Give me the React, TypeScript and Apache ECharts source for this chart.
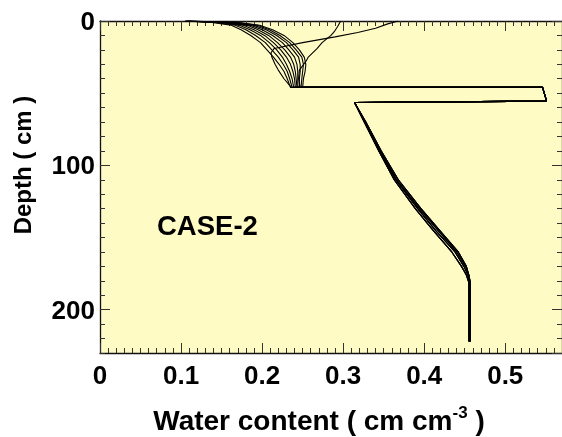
import React, { useEffect, useRef } from "react";
import * as echarts from "echarts";

// ---- Data ----
// Upper (sandy) layer: depth points and water-content profiles that dry at the surface
const UPPER_DEPTHS = [0, 1, 3, 6, 10, 15, 20, 25, 30, 35, 40, 46];
const DRY_1 = [0.105, 0.138, 0.162, 0.174, 0.186, 0.198, 0.206, 0.214, 0.221, 0.227, 0.231, 0.235];
const DRY_2 = [0.105, 0.143, 0.167, 0.18, 0.192, 0.204, 0.212, 0.22, 0.226, 0.231, 0.234, 0.237];
const DRY_3 = [0.105, 0.148, 0.172, 0.185, 0.198, 0.209, 0.218, 0.225, 0.23, 0.234, 0.237, 0.239];
const DRY_4 = [0.106, 0.152, 0.177, 0.19, 0.203, 0.214, 0.223, 0.23, 0.235, 0.238, 0.24, 0.241];
const DRY_5 = [0.106, 0.156, 0.182, 0.195, 0.208, 0.219, 0.228, 0.235, 0.239, 0.241, 0.242, 0.243];
const DRY_6 = [0.107, 0.16, 0.186, 0.2, 0.213, 0.225, 0.233, 0.24, 0.243, 0.244, 0.244, 0.244];
const DRY_7 = [0.108, 0.164, 0.19, 0.205, 0.218, 0.23, 0.238, 0.245, 0.247, 0.247, 0.246, 0.246];
const DRY_8 = [0.109, 0.168, 0.194, 0.209, 0.222, 0.234, 0.242, 0.249, 0.251, 0.25, 0.249, 0.248];
const DRY_9 = [0.11, 0.172, 0.197, 0.213, 0.227, 0.238, 0.246, 0.252, 0.254, 0.253, 0.251, 0.25];

// Profiles wetted at the surface
const WET_1_DEPTHS = [0, 2, 5, 8, 11, 15, 19, 22, 25, 30, 34, 40, 46];
const WET_1 = [0.368, 0.355, 0.34, 0.318, 0.29, 0.25, 0.215, 0.211, 0.212, 0.216, 0.22, 0.227, 0.236];
const WET_2_DEPTHS = [0, 4, 7.4, 10, 15, 19, 25, 28, 34, 40, 46];
const WET_2 = [0.297, 0.293, 0.289, 0.285, 0.274, 0.268, 0.257, 0.254, 0.246, 0.245, 0.247];

// Wet thin layer (clay) between ~46 and ~56 cm
const LAYER_THETA = [0.546, 0.551, 0.314];
const LAYER_DEPTH = [46, 55.5, 56.5];

// Lower layer profiles
const LOWER_DEPTHS = [70, 90, 110, 130, 145, 160, 170, 176, 181, 222];
const LOWER_A = [0.327, 0.345, 0.365, 0.392, 0.414, 0.438, 0.449, 0.454, 0.456, 0.456];
const LOWER_B = [0.328, 0.347, 0.368, 0.396, 0.419, 0.442, 0.452, 0.455, 0.457, 0.457];
const LOWER_C = [0.326, 0.344, 0.363, 0.389, 0.411, 0.434, 0.446, 0.452, 0.455, 0.455];
const LOWER_D = [0.327, 0.346, 0.366, 0.394, 0.417, 0.44, 0.451, 0.455, 0.456, 0.456];

// Axes
const X_MIN = 0;
const X_MAX = 0.57;
const X_MAJOR = 0.1;
const X_MINOR = 0.01;
const Y_MIN = 0;
const Y_MAX = 230;
const Y_MAJOR = 100;
const Y_MINOR = 10;

const X_TITLE_MAIN = "Water content ( cm cm";
const X_TITLE_SUP = "-3";
const X_TITLE_END = " )";
const Y_TITLE = "Depth ( cm )";
const CASE_LABEL = "CASE-2";

const FONT = "'Liberation Sans', Arial, Helvetica, sans-serif";
const BG = "#FFFBC4";

function buildProfile(depths: number[], thetas: number[], lower: number[]) {
  const pts: number[][] = [];
  depths.forEach((d, i) => pts.push([thetas[i], d]));
  LAYER_THETA.forEach((t, i) => pts.push([t, LAYER_DEPTH[i]]));
  LOWER_DEPTHS.forEach((d, i) => pts.push([lower[i], d]));
  return pts;
}

export default function App() {
  const ref = useRef<HTMLDivElement>(null);
  useEffect(() => {
    if (!ref.current) return;
    const chart = echarts.init(ref.current, null, { renderer: "svg" });
    const lowers = [LOWER_A, LOWER_B, LOWER_C, LOWER_D];
    const dry = [DRY_1, DRY_2, DRY_3, DRY_4, DRY_5, DRY_6, DRY_7, DRY_8, DRY_9];
    const profiles: number[][][] = [];
    dry.forEach((p, i) => profiles.push(buildProfile(UPPER_DEPTHS, p, lowers[i % 4])));
    profiles.push(buildProfile(WET_1_DEPTHS, WET_1, LOWER_B));
    profiles.push(buildProfile(WET_2_DEPTHS, WET_2, LOWER_C));

    const axisLineStyle = { color: "#111", width: 1.3 };
    const tickStyle = { color: "#333", width: 1 };
    const labelStyle = { fontFamily: FONT, fontWeight: "bold" as const, fontSize: 26, color: "#000" };

    const xBase = { type: "value" as const, min: X_MIN, max: X_MAX, splitLine: { show: false }, gridIndex: 0 };
    const yBase = { type: "value" as const, min: Y_MIN, max: Y_MAX, inverse: true, splitLine: { show: false }, gridIndex: 0 };
    const line = (show: boolean) => ({ show, onZero: false, lineStyle: axisLineStyle });

    chart.setOption({
      animation: false,
      grid: { left: 100, top: 21, width: 465, height: 332, show: true, backgroundColor: BG, borderWidth: 0 },
      xAxis: [
        { ...xBase, position: "bottom", interval: X_MAJOR, axisLine: line(true),
          axisTick: { inside: true, length: 10, lineStyle: tickStyle },
          axisLabel: { ...labelStyle, margin: 9, showMaxLabel: false } },
        { ...xBase, position: "bottom", interval: X_MINOR, axisLine: line(false),
          axisTick: { inside: true, length: 5, lineStyle: tickStyle }, axisLabel: { show: false } },
        { ...xBase, position: "top", interval: X_MAJOR, axisLine: line(true),
          axisTick: { inside: true, length: 10, lineStyle: tickStyle }, axisLabel: { show: false } },
        { ...xBase, position: "top", interval: X_MINOR, axisLine: line(false),
          axisTick: { inside: true, length: 5, lineStyle: tickStyle }, axisLabel: { show: false } },
      ],
      yAxis: [
        { ...yBase, position: "left", interval: Y_MAJOR, axisLine: line(true),
          axisTick: { inside: true, length: 10, lineStyle: tickStyle },
          axisLabel: { ...labelStyle, margin: 5, showMaxLabel: false } },
        { ...yBase, position: "left", interval: Y_MINOR, axisLine: line(false),
          axisTick: { inside: true, length: 5, lineStyle: tickStyle }, axisLabel: { show: false } },
        { ...yBase, position: "right", interval: Y_MAJOR, axisLine: line(true),
          axisTick: { inside: true, length: 10, lineStyle: tickStyle }, axisLabel: { show: false } },
        { ...yBase, position: "right", interval: Y_MINOR, axisLine: line(false),
          axisTick: { inside: true, length: 5, lineStyle: tickStyle }, axisLabel: { show: false } },
      ],
      series: profiles.map((data) => ({
        type: "line",
        xAxisIndex: 0,
        yAxisIndex: 0,
        data,
        showSymbol: false,
        symbol: "none",
        silent: true,
        lineStyle: { color: "#000", width: 1.1 },
      })),
      graphic: [
        {
          type: "text",
          x: 319,
          y: 420,
          style: {
            text: `{a|${X_TITLE_MAIN}}{s|${X_TITLE_SUP}}{a|${X_TITLE_END}}`,
            align: "center",
            verticalAlign: "middle",
            rich: {
              a: { fontFamily: FONT, fontWeight: "bold", fontSize: 28, fill: "#000" },
              s: { fontFamily: FONT, fontWeight: "bold", fontSize: 17, fill: "#000", verticalAlign: "top", padding: [0, 0, 15, 0] },
            },
          },
        },
        {
          type: "text",
          x: 22,
          y: 165,
          rotation: Math.PI / 2,
          style: {
            text: Y_TITLE,
            align: "center",
            verticalAlign: "middle",
            font: `bold 24px ${FONT}`,
            fill: "#000",
          },
        },
        {
          type: "text",
          x: 157,
          y: 225,
          style: {
            text: CASE_LABEL,
            align: "left",
            verticalAlign: "middle",
            font: `bold 27.5px ${FONT}`,
            fill: "#000",
          },
        },
      ],
    });
    return () => chart.dispose();
  }, []);
  return <div ref={ref} style={{ position: "fixed", left: 0, top: 0, width: 562, height: 437 }} />;
}
